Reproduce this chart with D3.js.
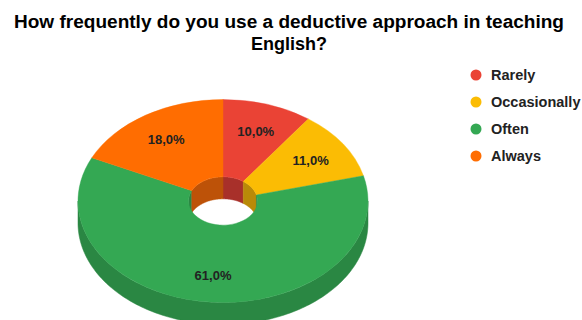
<!DOCTYPE html>
<html><head><meta charset="utf-8">
<script src="https://cdn.jsdelivr.net/npm/d3@7"></script>
<style>html,body{margin:0;padding:0;background:#fff;}svg{display:block;}</style>
</head><body>
<svg id="chart" width="582" height="320"></svg>
<script>
const categories = ["Rarely", "Occasionally", "Often", "Always"];
const values = [10.0, 11.0, 61.0, 18.0];
const labels = ["10,0%", "11,0%", "61,0%", "18,0%"];
const colors = ["#ea4335", "#fbbc04", "#34a853", "#ff6d01"];
const sideColors = ["#a8302a", "#b98a08", "#2a8743", "#bd5208"];
const titleLines = ["How frequently do you use a deductive approach in teaching", "English?"];

const W = 582, H = 320;
const svg = d3.select("#chart");
const cx = 223, cy = 201, R = 145, r = 34.5, k = 0.7, depth = 22, labelR = 106;
const FONT = "Arial, 'Liberation Sans', sans-serif";

const pie = d3.pie().sort(null).value(d => d).startAngle(0).endAngle(2 * Math.PI);
const arcs = pie(values);

const px = (rad, a) => cx + rad * Math.sin(a);
const py = (rad, a) => cy - rad * Math.cos(a) * k;

function wallPath(rad, a0, a1) {
  const n = Math.max(2, Math.ceil((a1 - a0) / 0.02));
  const pts = d3.range(n + 1).map(i => a0 + (a1 - a0) * i / n);
  const p = d3.path();
  pts.forEach((a, i) => i ? p.lineTo(px(rad, a), py(rad, a)) : p.moveTo(px(rad, a), py(rad, a)));
  pts.slice().reverse().forEach(a => p.lineTo(px(rad, a), py(rad, a) + depth));
  p.closePath();
  return p.toString();
}
function clip(a0, a1, lo, hi) {
  const s = Math.max(a0, lo), e = Math.min(a1, hi);
  return s < e ? [s, e] : null;
}

const g = svg.append("g");
// outer front wall
arcs.forEach((d, i) => {
  const c = clip(d.startAngle, d.endAngle, Math.PI / 2, 3 * Math.PI / 2);
  if (c) g.append("path").attr("d", wallPath(R, c[0], c[1])).attr("fill", sideColors[i]).attr("stroke", sideColors[i]).attr("stroke-width", 0.5);
});
// inner back wall
arcs.forEach((d, i) => {
  [[0, Math.PI / 2], [3 * Math.PI / 2, 2 * Math.PI]].forEach(([lo, hi]) => {
    const c = clip(d.startAngle, d.endAngle, lo, hi);
    if (c) g.append("path").attr("d", wallPath(r, c[0], c[1])).attr("fill", sideColors[i]).attr("stroke", sideColors[i]).attr("stroke-width", 0.5);
  });
});
// top face
const arcGen = d3.arc().innerRadius(r).outerRadius(R);
const topFace = g.append("g").attr("transform", `translate(${cx},${cy}) scale(1,${k})`);
topFace.selectAll("path").data(arcs).join("path")
  .attr("d", arcGen).attr("fill", (d, i) => colors[i])
  .attr("stroke", (d, i) => colors[i]).attr("stroke-width", 0.5);

// labels
g.selectAll("text.lbl").data(arcs).join("text").attr("class", "lbl")
  .attr("x", d => px(labelR, (d.startAngle + d.endAngle) / 2))
  .attr("y", d => py(labelR, (d.startAngle + d.endAngle) / 2) + 1)
  .attr("dy", "0.35em").attr("text-anchor", "middle")
  .attr("font-family", FONT).attr("font-weight", "bold")
  .attr("font-size", 13).attr("fill", "#222")
  .text((d, i) => labels[i]);

// title
svg.selectAll("text.title").data(titleLines).join("text").attr("class", "title")
  .attr("x", 289).attr("y", (d, i) => 28 + i * 22)
  .attr("text-anchor", "middle")
  .attr("font-family", FONT).attr("font-weight", "bold")
  .attr("font-size", 18).attr("fill", "#000")
  .each(function (d, i) { if (i === 0) d3.select(this).attr("textLength", 550).attr("lengthAdjust", "spacingAndGlyphs"); })
  .text(d => d);

// legend
const lg = svg.append("g");
const ly = d3.scalePoint().domain(categories).range([75, 156]);
categories.forEach((c, i) => {
  lg.append("circle").attr("cx", 476).attr("cy", ly(c)).attr("r", 5.5).attr("fill", colors[i]);
  lg.append("text").attr("x", 491).attr("y", ly(c)).attr("dy", "0.36em")
    .attr("font-family", FONT).attr("font-weight", "bold")
    .attr("font-size", 14.5).attr("fill", "#222").text(c);
});
</script>
</body></html>
